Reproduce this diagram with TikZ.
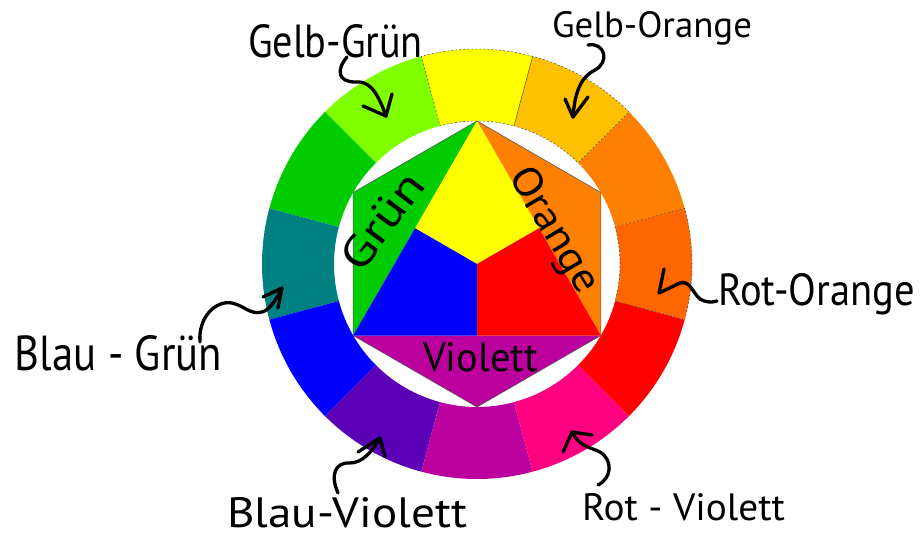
\documentclass[tikz,border=0pt]{standalone}
\usepackage{fontspec}
\setmainfont{PT Sans}
\usepackage{graphicx}
\usetikzlibrary{calc}
\definecolor{cY}{HTML}{FFFF00}
\definecolor{cYG}{HTML}{80FF00}
\definecolor{cG}{HTML}{00CC00}
\definecolor{cBG}{HTML}{008080}
\definecolor{cB}{HTML}{0000FF}
\definecolor{cBV}{HTML}{5C00B8}
\definecolor{cV}{HTML}{BC009E}
\definecolor{cRV}{HTML}{FF0080}
\definecolor{cR}{HTML}{FF0000}
\definecolor{cRO}{HTML}{FF6600}
\definecolor{cO}{HTML}{FF8000}
\definecolor{cYO}{HTML}{FFC000}
\begin{document}
\begin{tikzpicture}[x=1pt,y=-1pt,
  hw/.style={inner sep=0pt, outer sep=0pt, anchor=base west, font=\fontsize{40}{48}\selectfont},
  arr/.style={draw=black, line width=3.3pt, line cap=round, line join=round},
  hexedge/.style={draw=black!65, line width=0.6pt},
  segdash/.style={draw=black!70, line width=0.5pt, dash pattern=on 2pt off 2pt}]
\useasboundingbox (0,0) rectangle (920,535);
\fill[white] (0,0) rectangle (920,535);
\coordinate (C) at (477,264);
\begin{scope}[shift={(C)}]
  % ring segments (screen angle a, measured counter-clockwise; y is flipped)
  \foreach \a/\c in {90/cY,120/cYG,150/cG,180/cBG,210/cB,240/cBV,270/cV,300/cRV,330/cR,360/cRO,30/cO,60/cYO}{
    \fill[\c] ({-\a+15}:215) arc[start angle={-\a+15}, end angle={-\a-15}, radius=215]
      -- ({-\a-15}:143) arc[start angle={-\a-15}, end angle={-\a+15}, radius=143] -- cycle;
  }
  \foreach \a in {90,60,360}{
    \draw[segdash] ({-\a+15}:215) arc[start angle={-\a+15}, end angle={-\a-15}, radius=215]
      -- ({-\a-15}:143) arc[start angle={-\a-15}, end angle={-\a+15}, radius=143] -- cycle;
  }
  % hexagon vertices
  \coordinate (O) at (0,0);
  \coordinate (H90) at (-90:143);
  \coordinate (H150) at (-150:143);
  \coordinate (H210) at (-210:143);
  \coordinate (H270) at (-270:143);
  \coordinate (H330) at (-330:143);
  \coordinate (H30) at (-30:143);
  \coordinate (ML) at ($(H90)!0.5!(H210)$);
  \coordinate (MR) at ($(H90)!0.5!(H330)$);
  \coordinate (MB) at ($(H210)!0.5!(H330)$);
  \fill[cG] (H90) -- (H150) -- (H210) -- cycle;
  \fill[cO] (H90) -- (H30) -- (H330) -- cycle;
  \fill[cV] (H210) -- (H270) -- (H330) -- cycle;
  \fill[cY] (H90) -- (ML) -- (O) -- (MR) -- cycle;
  \fill[cB] (ML) -- (H210) -- (MB) -- (O) -- cycle;
  \fill[cR] (O) -- (MB) -- (H330) -- (MR) -- cycle;
  \draw[hexedge] (H90) -- (H150) -- (H210) -- (H270) -- (H330) -- (H30) -- cycle;
\end{scope}

% inner labels
\node[hw, rotate=53] (gruen) at (361,274) {\resizebox{110pt}{31pt}{Grün}};
\node[hw, rotate=-59] (orange) at (508,176) {\resizebox{140pt}{29pt}{Orange}};
\node[hw] (violett) at (423,371) {\resizebox{115pt}{29pt}{Violett}};

% outer labels
\node[hw] (gg) at (248,58) {\resizebox{175pt}{33pt}{Gelb-Grün}};
\node[hw] (go) at (552,38) {\resizebox{200pt}{26pt}{Gelb-Orange}};
\node[hw] (ro) at (718,305) {\resizebox{197pt}{32pt}{Rot-Orange}};
\node[hw] (bg) at (15,370) {\resizebox{207pt}{35pt}{Blau - Grün}};
\node[hw] (bv) at (227,527) {\resizebox{240pt}{30pt}{Blau-Violett}};
\node[hw] (rv) at (582,520) {\resizebox{203pt}{27pt}{Rot - Violett}};

% arrows
\coordinate (ggS) at (347,57);   \coordinate (ggT) at (386,116);
\coordinate (goS) at (588,45);   \coordinate (goT) at (573,117);
\coordinate (roS) at (717,301);  \coordinate (roT) at (659,293);
\coordinate (bgS) at (200,342);  \coordinate (bgT) at (282,288);
\coordinate (bvS) at (338,493);  \coordinate (bvT) at (380,438);
\coordinate (rvS) at (598,485);  \coordinate (rvT) at (572,432);

\draw[arr] (ggS) .. controls (336,70) and (338,82) .. (355,82) .. controls (368,81) and (376,88) .. (ggT);
\draw[arr] (363,106) -- (ggT) -- (392,94);

\draw[arr] (goS) .. controls (605,42) and (610,62) .. (595,70) .. controls (583,76) and (575,88) .. (goT);
\draw[arr] (565,99) -- (goT) -- (588,97);

\draw[arr] (roS) .. controls (711,303) and (705,302) .. (700,299) .. controls (692,292) and (690,280) .. (680,283) -- (roT) -- (664,269);

\draw[arr] (bgS) .. controls (198,318) and (215,300) .. (232,303) .. controls (245,306) and (250,315) .. (262,312) .. controls (270,310) and (277,298) .. (bgT);
\draw[arr] (263,297) -- (bgT) -- (278,308);

\draw[arr] (bvS) .. controls (330,475) and (335,462) .. (350,463) .. controls (362,463) and (372,452) .. (bvT);
\draw[arr] (358,452) -- (bvT) -- (385,457);

\draw[arr] (rvS) .. controls (612,478) and (613,460) .. (600,452) .. controls (590,447) and (580,447) .. (rvT);
\draw[arr] (563,452) -- (rvT) -- (592,435);
\end{tikzpicture}
\end{document}
